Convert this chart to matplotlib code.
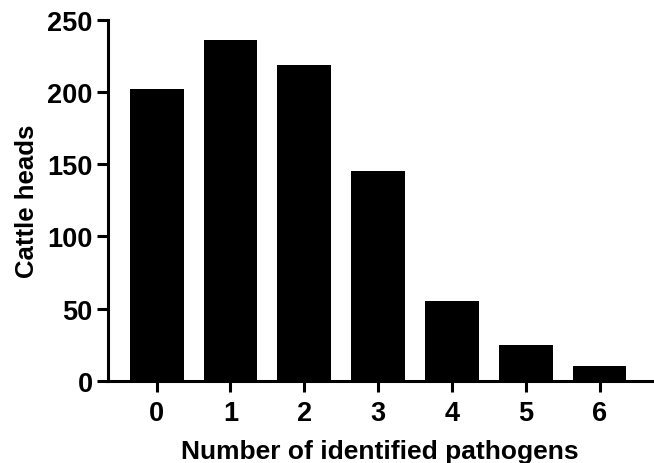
import matplotlib
matplotlib.use("Agg")
import matplotlib.pyplot as plt

categories = ["0", "1", "2", "3", "4", "5", "6"]
cattle_heads = [202, 236, 219, 145, 55, 25, 10]
y_ticks = [0, 50, 100, 150, 200, 250]

plt.rcParams['font.family'] = ['Liberation Sans', 'DejaVu Sans']
plt.rcParams['font.weight'] = 'bold'

fig = plt.figure(figsize=(6.54, 4.64), dpi=100)
ax = fig.add_axes([0.165, 0.177, 0.833, 0.778])

x = list(range(len(categories)))
ax.bar(x, cattle_heads, width=0.73, color='black', edgecolor='none')

ax.set_xlim(-0.66, 6.72)
ax.set_ylim(0, 250)
ax.set_yticks(y_ticks)
ax.set_xticks(x)
ax.set_xticklabels(categories)

for s in ['top', 'right']:
    ax.spines[s].set_visible(False)
for s in ['left', 'bottom']:
    ax.spines[s].set_linewidth(2.2)

ax.tick_params(axis='both', direction='out', length=8, width=2.2, labelsize=19.5)
ax.tick_params(axis='y', pad=3)
ax.tick_params(axis='x', pad=6)
for lab in ax.get_xticklabels() + ax.get_yticklabels():
    lab.set_fontweight('bold')

ax.set_xlabel("Number of identified pathogens", fontsize=19, fontweight='bold', labelpad=9)
ax.set_ylabel("Cattle heads", fontsize=18.5, fontweight='bold', labelpad=6)

fig.savefig("out.png", dpi=100)
